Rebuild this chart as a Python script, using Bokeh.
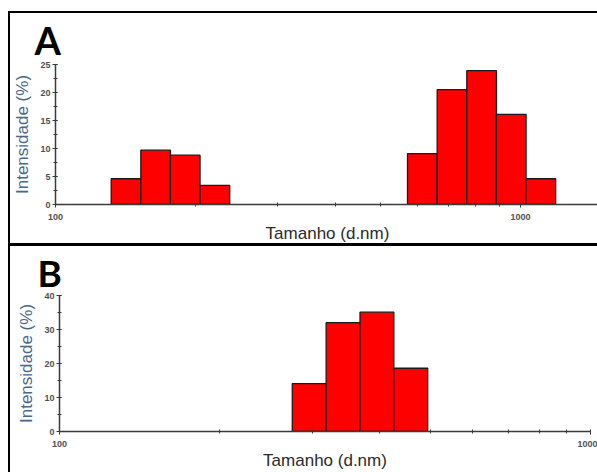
import numpy as np
from bokeh.plotting import figure
from bokeh.layouts import column, row
from bokeh.models import (FixedTicker, SingleIntervalTicker, NumeralTickFormatter,
                          ColumnDataSource, Range1d, Spacer)
from bokeh.embed import file_html
from bokeh.resources import INLINE

# Zetasizer size classes (d.nm) – log-spaced classes with constant ratio
size_class_ratio = 1.1582

# Panel A
sizes_A = [141.8, 164.2, 190.1, 220.2, 615.1, 712.4, 825.0, 955.4, 1106.0]
intens_A = [4.6, 9.7, 8.8, 3.4, 9.1, 20.5, 23.9, 16.1, 4.6]

# Panel B
sizes_B = [295.3, 342.0, 396.1, 458.7]
intens_B = [14.1, 32.0, 35.1, 18.6]

x_major_ticks = [100, 1000]
x_minor_ticks = [200, 300, 400, 500, 600, 700, 800, 900]

X_LABEL = "Tamanho (d.nm)"
Y_LABEL = "Intensidade (%)"


def make_panel(sizes, intens, letter, x_end, y_end, y_interval, width, height,
               mb_left, mb_top, mb_bottom, mb_right, styles,
               title_offset, title_standoff, title_size):
    p = figure(width=width, height=height, x_axis_type="log",
               x_range=Range1d(100, x_end), y_range=Range1d(0, y_end),
               output_backend="svg", toolbar_location=None,
               min_border_left=mb_left, min_border_top=mb_top,
               min_border_bottom=mb_bottom, min_border_right=mb_right,
               background_fill_color="white", border_fill_color="white")
    p.styles = styles
    half = np.sqrt(size_class_ratio)
    s = np.array(sizes, dtype=float)
    src = ColumnDataSource(dict(left=s / half, right=s * half,
                                top=intens, bottom=[0] * len(intens)))
    p.quad(left="left", right="right", top="top", bottom="bottom", source=src,
           fill_color="#ff0000", line_color="#1a1a1a", line_width=1.3)

    p.xgrid.visible = False
    p.ygrid.visible = False
    p.outline_line_color = None

    p.xaxis.ticker = FixedTicker(ticks=x_major_ticks, minor_ticks=x_minor_ticks)
    p.xaxis.formatter = NumeralTickFormatter(format="0")
    p.yaxis.ticker = SingleIntervalTicker(interval=y_interval, num_minor_ticks=2)

    for ax in (p.xaxis[0], p.yaxis[0]):
        ax.axis_line_color = "#3a3a3a"
        ax.axis_line_width = 1.5
        ax.major_tick_line_color = "#3a3a3a"
        ax.minor_tick_line_color = "#3a3a3a"
        ax.major_tick_in = 2
        ax.major_tick_out = 3
        ax.minor_tick_in = 2
        ax.minor_tick_out = 2
        ax.major_label_text_font = "Liberation Sans"
        ax.major_label_text_font_size = "9px"
        ax.major_label_text_font_style = "bold"
        ax.major_label_text_color = "#505050"
        ax.axis_label_text_font = "Liberation Sans"
        ax.axis_label_text_font_size = "17px"
        ax.axis_label_text_font_style = "normal"

    p.xaxis.axis_label = X_LABEL
    p.xaxis.axis_label_text_color = "#2a2a2a"
    p.xaxis.major_label_standoff = 6
    p.xaxis.axis_label_standoff = 1

    p.yaxis.axis_label = Y_LABEL
    p.yaxis.axis_label_text_color = "#4a6788"
    p.yaxis.major_label_standoff = 2
    p.yaxis.axis_label_standoff = 5

    p.title.text = letter
    p.title.text_font = "Lato"
    p.title.text_font_size = title_size
    p.title.text_font_style = "bold"
    p.title.text_color = "black"
    p.title.align = "left"
    p.title.offset = title_offset
    p.title.standoff = title_standoff
    p.title.vertical_align = "bottom"
    return p


pa = make_panel(sizes_A, intens_A, "A", 1479, 25, 5, 589, 235,
                43, 49, 44, 0,
                {"border-top": "2px solid black", "border-left": "2px solid black",
                 "border-bottom": "3px solid black", "box-sizing": "border-box"},
                -21, 3, "38px")
pb = make_panel(sizes_B, intens_B, "B", 1000, 40, 10, 589, 226,
                49, 47, 40, 9,
                {"border-left": "2px solid black", "box-sizing": "border-box"},
                -22, 2, "37px")

layout = column(Spacer(width=597, height=11),
                row(Spacer(width=8, height=235), pa, spacing=0),
                row(Spacer(width=8, height=226), pb, spacing=0),
                spacing=0)

open("out.html", "w").write(file_html(layout, INLINE))
